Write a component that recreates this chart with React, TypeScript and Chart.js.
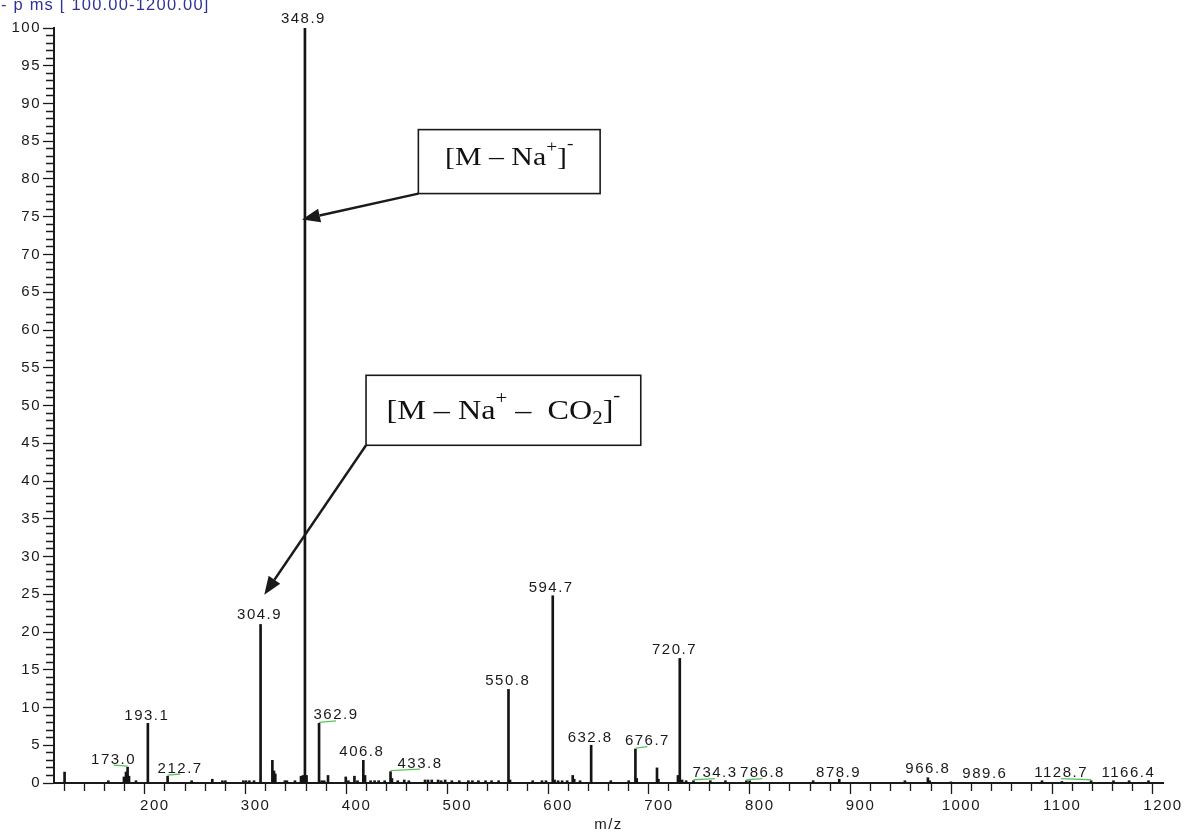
import React, { useEffect, useRef } from 'react';
import { Chart, registerables } from 'chart.js';

Chart.register(...registerables);

// ---------------- data ----------------
const TITLE_TEXT = '- p ms [ 100.00-1200.00]';
const X_TITLE = 'm/z';

const X_MIN = 100;
const X_MAX = 1200;
const X_MAJOR = 100;
const X_MINOR = 20;
const Y_MIN = 0;
const Y_MAX = 100;
const Y_MAJOR = 5;
const Y_MINOR = 1;

const PEAK_MZ = [
  110.5, 153.9, 169.4, 171.4, 173.0, 174.4, 181.3, 193.1, 212.7, 236.5,
  257.0, 267.0, 270.0, 287.8, 290.5, 293.8, 298.4, 304.9, 316.6, 318.2,
  319.5, 329.0, 331.0, 339.0, 345.0, 347.0, 348.9, 350.5, 362.9, 365.5,
  368.0, 371.8, 389.4, 392.0, 398.0, 401.0, 406.8, 408.5, 414.0, 418.0,
  422.0, 428.0, 433.8, 435.2, 441.0, 447.4, 452.0, 468.0, 471.0, 474.7,
  481.0, 484.0, 488.0, 494.6, 502.0, 511.0, 515.0, 521.0, 528.0, 534.0,
  541.0, 550.8, 552.3, 574.8, 584.0, 588.0, 594.7, 596.5, 600.0, 604.0,
  609.0, 614.5, 616.0, 621.8, 632.8, 652.3, 670.0, 676.7, 678.0, 698.1,
  699.5, 718.9, 720.7, 723.0, 727.0, 734.3, 751.0, 766.0, 786.8, 790.0,
  853.0, 878.9, 944.0, 966.8, 968.5, 989.6, 1080.0, 1099.7, 1128.7, 1150.9,
  1166.4, 1185.6,
];
const PEAK_INTENSITY = [
  1.45, 0.3, 0.8, 1.45, 2.1, 0.9, 0.3, 7.9, 0.9, 0.3,
  0.5, 0.3, 0.3, 0.3, 0.3, 0.3, 0.3, 21.0, 3.0, 1.6,
  1.2, 0.3, 0.3, 0.3, 0.9, 1.0, 100, 1.0, 7.9, 0.3,
  0.3, 1.0, 0.8, 0.3, 0.9, 0.3, 3.0, 1.0, 0.3, 0.3,
  0.3, 0.3, 1.5, 0.6, 0.3, 0.4, 0.3, 0.4, 0.4, 0.4,
  0.4, 0.3, 0.4, 0.3, 0.3, 0.3, 0.3, 0.3, 0.3, 0.3,
  0.3, 12.4, 0.4, 0.3, 0.3, 0.3, 24.8, 0.4, 0.3, 0.3,
  0.3, 1.0, 0.5, 0.3, 5.0, 0.3, 0.3, 4.5, 0.6, 2.0,
  0.5, 1.0, 16.5, 0.4, 0.3, 0.3, 0.3, 0.3, 0.3, 0.3,
  0.3, 0.5, 0.3, 0.7, 0.3, 0.15, 0.3, 0.2, 0.3, 0.3,
  0.3, 0.3,
];

const LABEL_MZ = [
  173.0, 193.1, 212.7, 304.9, 348.9, 362.9, 406.8, 433.8, 550.8, 594.7,
  632.8, 676.7, 720.7, 734.3, 786.8, 878.9, 966.8, 989.6, 1128.7, 1166.4,
];
const LABEL_HAS_LEADER = [
  true, false, true, false, false, true, false, true, false, false,
  false, true, false, true, true, false, false, false, true, false,
];

// annotation callouts: box corners and arrow tip in data units
const ANNOT_TEXTS = [
  [['[M – Na', 0], ['+', 1], [']', 0], ['-', 2]],
  [['[M – Na', 0], ['+', 1], [' –  CO', 0], ['2', -1], [']', 0], ['-', 2]],
];
const ANNOT_BOX_LEFT = [461.4, 409.5];
const ANNOT_BOX_RIGHT = [641.7, 682.0];
const ANNOT_BOX_TOP = [86.54, 54.0];
const ANNOT_BOX_BOTTOM = [78.07, 44.73];
const ANNOT_TIP_X = [346.0, 308.6];
const ANNOT_TIP_Y = [74.65, 24.95];

// ---------------- layout / style ----------------
const SANS = '"Liberation Sans", Arial, Helvetica, sans-serif';
const SERIF = '"Liberation Serif", "Times New Roman", serif';
const TEXT_COLOR = '#1a1a1a';
const AXIS_COLOR = '#1a1a1a';
const PEAK_COLOR = '#141414';
const LEADER_COLOR = '#5cc25c';
const TITLE_COLOR = '#2f3399';

const LABEL_DX = [-14, -1, 12.5, -1, -1.5, 17, -1.5, 29.5, -0.7, -1.6, -1, 12, -5.3, 21.6, 16, -0.7, 0, 34, -30, -0.7];
const LABEL_DY = [-3.5, -3.5, -3.7, -5, -5, -4, -4.3, -4, -4, -3.7, -3.3, -4, -4, -3.7, -3.7, -2.2, -5, -3.5, -3.7, -3.7];
const ANNOT_FONT_SIZE = [25.5, 27.5];
const ANNOT_BASELINE = [35.7, 43.3];
const ANNOT_STRETCH = 1.17;

function drawRich(ctx: CanvasRenderingContext2D, segs: any[], cx: number, baseline: number, size: number) {
  const parts = segs.map(([t, kind]) => {
    const s = kind === 0 ? size : size * 0.65;
    let dy = 0;
    if (kind === 1) dy = -0.53 * size;
    if (kind === 2) dy = -0.64 * size;
    if (kind === -1) dy = 0.18 * size;
    ctx.font = `${s}px ${SERIF}`;
    const w = ctx.measureText(t).width;
    return { t, s, dy, w };
  });
  const total = parts.reduce((a, p) => a + p.w, 0) * ANNOT_STRETCH;
  ctx.save();
  ctx.scale(ANNOT_STRETCH, 1);
  let x = (cx - total / 2) / ANNOT_STRETCH;
  ctx.textAlign = 'left';
  ctx.textBaseline = 'alphabetic';
  ctx.fillStyle = '#111';
  for (const p of parts) {
    ctx.font = `${p.s}px ${SERIF}`;
    ctx.fillText(p.t, x, baseline + p.dy);
    x += p.w;
  }
  ctx.restore();
}

const overlayPlugin = {
  id: 'overlay',
  beforeDraw(chart: any) {
    (chart.ctx as any).letterSpacing = '1.5px';
  },
  afterDraw(chart: any) {
    const ctx: CanvasRenderingContext2D = chart.ctx;
    const xs = chart.scales.x;
    const ys = chart.scales.y;
    ctx.save();

    // header text (cut by the top edge, as in the source)
    (ctx as any).letterSpacing = '1.2px';
    ctx.font = `16.5px ${SANS}`;
    ctx.fillStyle = TITLE_COLOR;
    ctx.textAlign = 'left';
    ctx.textBaseline = 'alphabetic';
    ctx.fillText(TITLE_TEXT, 1, 9.5);

    // peak labels
    (ctx as any).letterSpacing = '1.5px';
    ctx.font = `15px ${SANS}`;
    ctx.fillStyle = TEXT_COLOR;
    ctx.textAlign = 'center';
    LABEL_MZ.forEach((mz, i) => {
      const idx = PEAK_MZ.indexOf(mz);
      const h = idx >= 0 ? PEAK_INTENSITY[idx] : 0;
      const px = xs.getPixelForValue(mz);
      const py = ys.getPixelForValue(h);
      const lx = px + LABEL_DX[i];
      const ly = py + LABEL_DY[i];
      if (LABEL_HAS_LEADER[i]) {
        ctx.strokeStyle = LEADER_COLOR;
        ctx.lineWidth = 1.3;
        ctx.beginPath();
        ctx.moveTo(px, py - 1);
        ctx.lineTo(lx, ly + 1.5);
        ctx.stroke();
      }
      ctx.fillText(mz.toFixed(1), lx, ly);
    });

    // callouts
    (ctx as any).letterSpacing = '0px';
    ANNOT_TEXTS.forEach((segs, i) => {
      const x1 = xs.getPixelForValue(ANNOT_BOX_LEFT[i]);
      const x2 = xs.getPixelForValue(ANNOT_BOX_RIGHT[i]);
      const y1 = ys.getPixelForValue(ANNOT_BOX_TOP[i]);
      const y2 = ys.getPixelForValue(ANNOT_BOX_BOTTOM[i]);
      ctx.fillStyle = '#fff';
      ctx.fillRect(x1, y1, x2 - x1, y2 - y1);
      ctx.strokeStyle = AXIS_COLOR;
      ctx.lineWidth = 1.6;
      ctx.strokeRect(x1, y1, x2 - x1, y2 - y1);

      const tx = xs.getPixelForValue(ANNOT_TIP_X[i]);
      const ty = ys.getPixelForValue(ANNOT_TIP_Y[i]);
      const ang = Math.atan2(ty - y2, tx - x1);
      const headLen = 18;
      const headHalf = 7;
      const bx = tx - headLen * Math.cos(ang);
      const by = ty - headLen * Math.sin(ang);
      ctx.lineWidth = 2.4;
      ctx.beginPath();
      ctx.moveTo(x1, y2);
      ctx.lineTo(bx, by);
      ctx.stroke();
      ctx.fillStyle = AXIS_COLOR;
      ctx.beginPath();
      ctx.moveTo(tx, ty);
      ctx.lineTo(bx + headHalf * Math.sin(ang), by - headHalf * Math.cos(ang));
      ctx.lineTo(bx - headHalf * Math.sin(ang), by + headHalf * Math.cos(ang));
      ctx.closePath();
      ctx.fill();

      drawRich(ctx, segs, (x1 + x2) / 2, y1 + ANNOT_BASELINE[i], ANNOT_FONT_SIZE[i]);
    });

    ctx.restore();
  },
};

export default function App() {
  const ref = useRef<HTMLCanvasElement>(null);
  useEffect(() => {
    const canvas = ref.current;
    if (!canvas) return;
    const chart = new Chart(canvas, {
      type: 'bar',
      data: {
        datasets: [
          {
            data: PEAK_MZ.map((x, i) => ({ x, y: PEAK_INTENSITY[i] })),
            backgroundColor: PEAK_COLOR,
            borderWidth: 0,
            barThickness: 2,
          } as any,
        ],
      },
      options: {
        responsive: false,
        animation: false,
        devicePixelRatio: 1,
        layout: { padding: { left: 0, top: 28, right: 22, bottom: 0 } },
        plugins: {
          legend: { display: false },
          tooltip: { enabled: false },
          title: { display: false },
        },
        scales: {
          x: {
            type: 'linear',
            min: X_MIN,
            max: X_MAX,
            offset: false,
            border: { display: true, color: AXIS_COLOR, width: 2 },
            grid: {
              drawOnChartArea: false,
              drawTicks: true,
              tickLength: 11,
              tickWidth: 1.3,
              tickColor: (c: any) => (c.tick && c.tick.value === X_MIN ? 'rgba(0,0,0,0)' : AXIS_COLOR),
              tickBorderDash: (c: any) => (c.tick && c.tick.value % X_MAJOR === 0 ? [] : [7, 20]),
            },
            ticks: {
              stepSize: X_MINOR,
              autoSkip: false,
              maxRotation: 0,
              minRotation: 0,
              padding: 3,
              color: TEXT_COLOR,
              font: { size: 15, family: SANS },
              callback: (v: any) => (v % X_MAJOR === 0 && v !== X_MIN ? String(v) : ''),
            },
            title: {
              display: true,
              text: X_TITLE,
              color: TEXT_COLOR,
              font: { size: 15, family: SANS, lineHeight: 1 },
              padding: { top: 0, bottom: 0 },
            },
            afterFit: (s: any) => {
              s.height = 49;
            },
          } as any,
          y: {
            type: 'linear',
            min: Y_MIN,
            max: Y_MAX,
            border: { display: true, color: AXIS_COLOR, width: 2 },
            grid: {
              drawOnChartArea: false,
              drawTicks: true,
              tickLength: 11,
              tickWidth: 1.3,
              tickColor: AXIS_COLOR,
              tickBorderDash: (c: any) => (c.tick && c.tick.value % Y_MAJOR === 0 ? [] : [0, 3, 7, 1]),
            },
            ticks: {
              stepSize: Y_MINOR,
              autoSkip: false,
              padding: 2,
              color: TEXT_COLOR,
              font: { size: 15, family: SANS },
              callback: (v: any) => (v % Y_MAJOR === 0 ? String(v) : ''),
            },
            afterFit: (s: any) => {
              s.width = 54;
            },
          } as any,
        },
      },
      plugins: [overlayPlugin],
    });
    return () => chart.destroy();
  }, []);

  return (
    <div style={{ position: 'fixed', left: 0, top: 0, width: 1185, height: 832, background: '#fff' }}>
      <canvas ref={ref} width={1185} height={832} style={{ display: 'block' }} />
    </div>
  );
}
